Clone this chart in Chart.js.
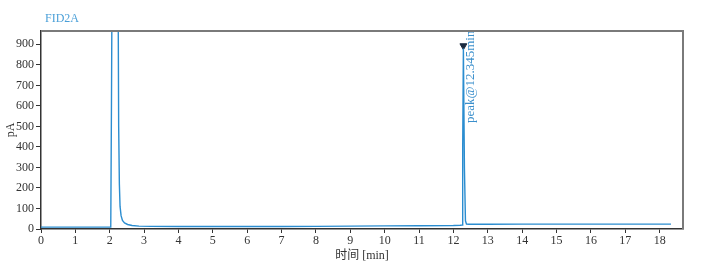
<!DOCTYPE html>
<html>
<head>
<meta charset="utf-8">
<script src="https://cdn.jsdelivr.net/npm/chart.js@4/dist/chart.umd.min.js"></script>
<style>
  html, body { margin: 0; padding: 0; background: #fff; }
  #wrap { width: 722px; height: 267px; position: relative; }
</style>
</head>
<body>
<div id="wrap"><canvas id="c" width="722" height="267"></canvas></div>
<script>
// ---- data ----
const chartTitle = 'FID2A';
const xAxisTitle = '时间 [min]';
const yAxisTitle = 'pA';
const times  = [0, 1, 2.0, 2.03, 2.05, 2.07, 2.24, 2.26, 2.28, 2.30, 2.33, 2.37, 2.43, 2.52, 2.65, 2.85, 3.2, 4, 5, 6, 7, 8, 9, 10, 11, 12, 12.2, 12.25, 12.27, 12.29, 12.32, 12.35, 12.38, 12.45, 13, 14, 15, 16, 17, 18, 18.33];
const signal = [9, 9, 9, 9, 600, 1300, 1300, 500, 220, 110, 65, 42, 30, 22, 17, 14, 13, 12, 12, 12, 12, 13, 14, 15, 16, 17, 18, 19, 400, 880, 300, 40, 24, 23, 23, 24, 24, 24, 24, 24, 24];
const peakTimes  = [12.29];
const peakMarks  = [893];
const peakLabels = ['peak@12.345min'];
const yTicks = [0, 100, 200, 300, 400, 500, 600, 700, 800, 900];
const xMax = 18.68, yMax = 965;

const serif = '"Liberation Serif", "Noto Sans CJK SC", serif';

const decor = {
  id: 'decor',
  afterDatasetsDraw(chart) {
    const {ctx, chartArea: a, scales} = chart;
    ctx.save();
    // peak annotation (clipped to plot)
    ctx.beginPath();
    ctx.rect(a.left, a.top, a.right - a.left, a.bottom - a.top);
    ctx.clip();
    peakTimes.forEach((t, i) => {
      const px = scales.x.getPixelForValue(t);
      ctx.save();
      ctx.translate(px + 7, 123);
      ctx.rotate(-Math.PI / 2);
      ctx.fillStyle = '#3a8fcc';
      ctx.font = '13px ' + serif;
      ctx.textAlign = 'left';
      ctx.textBaseline = 'middle';
      ctx.fillText(peakLabels[i], 0, 0);
      ctx.restore();
    });
    ctx.restore();
  },
  afterDraw(chart) {
    const {ctx, chartArea: a} = chart;
    ctx.save();
    // top & right frame
    ctx.strokeStyle = '#7a7a7a';
    ctx.lineWidth = 2;
    ctx.beginPath();
    ctx.moveTo(a.left, a.top);
    ctx.lineTo(a.right, a.top);
    ctx.lineTo(a.right, a.bottom);
    ctx.stroke();
    // title
    ctx.fillStyle = '#4a9fd8';
    ctx.font = '12px ' + serif;
    ctx.textAlign = 'left';
    ctx.textBaseline = 'middle';
    ctx.fillText(chartTitle, 45, 19);
    // x axis title
    ctx.fillStyle = '#333';
    ctx.textAlign = 'center';
    ctx.fillText(xAxisTitle, (a.left + a.right) / 2, 256);
    // y axis title
    ctx.translate(11, 130);
    ctx.rotate(-Math.PI / 2);
    ctx.fillText(yAxisTitle, 0, 0);
    ctx.restore();
  }
};

new Chart(document.getElementById('c'), {
  type: 'line',
  data: {
    datasets: [
      {
        data: times.map((t, i) => ({x: t, y: signal[i]})),
        borderColor: '#2b8dd0',
        borderWidth: 1.4,
        pointRadius: 0,
        tension: 0,
        fill: false
      },
      {
        data: peakTimes.map((t, i) => ({x: t, y: peakMarks[i]})),
        showLine: false,
        pointStyle: 'triangle',
        rotation: 180,
        pointRadius: 4,
        backgroundColor: '#1b2b40',
        borderColor: '#1b2b40',
        borderWidth: 1
      }
    ]
  },
  options: {
    responsive: false,
    animation: false,
    devicePixelRatio: 1,
    layout: { padding: { left: 0, right: 39, top: 31, bottom: 0 } },
    plugins: { legend: { display: false }, tooltip: { enabled: false }, title: { display: false } },
    scales: {
      x: {
        type: 'linear',
        min: 0, max: xMax,
        afterFit(s) { s.height = 38; },
        afterBuildTicks(s) { s.ticks = Array.from({length: 19}, (_, i) => ({value: i})); },
        ticks: { color: '#333', font: { family: serif, size: 12 }, padding: 1, maxRotation: 0, autoSkip: false },
        grid: { drawOnChartArea: false, drawTicks: true, tickLength: 4, color: '#333', lineWidth: 1 },
        border: { color: '#333', width: 1.5 }
      },
      y: {
        min: 0, max: yMax,
        afterFit(s) { s.width = 41; },
        afterBuildTicks(s) { s.ticks = yTicks.map(v => ({value: v})); },
        ticks: { color: '#333', font: { family: serif, size: 12 }, padding: 2, autoSkip: false },
        grid: { drawOnChartArea: false, drawTicks: true, tickLength: 5, color: '#333', lineWidth: 1 },
        border: { color: '#333', width: 1.5 }
      }
    }
  },
  plugins: [decor]
});
</script>
</body>
</html>
